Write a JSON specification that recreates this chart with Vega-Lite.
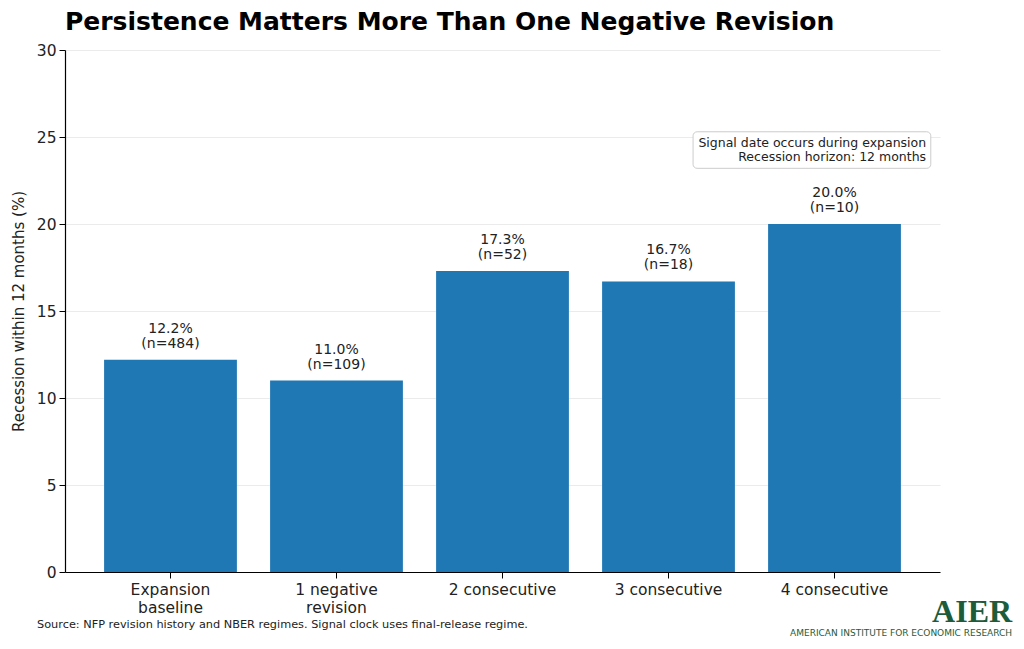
{
  "$schema": "https://vega.github.io/schema/vega-lite/v6.json",
  "autosize": {"type": "none"},
  "width": 875,
  "height": 522,
  "padding": {"left": 65, "top": 50, "right": 84, "bottom": 77},
  "background": "white",
  "title": {
    "text": "Persistence Matters More Than One Negative Revision",
    "anchor": "start",
    "frame": "group",
    "font": "DejaVu Sans",
    "fontSize": 25,
    "fontWeight": "bold",
    "color": "black",
    "offset": 8
  },
  "config": {
    "view": {"stroke": null},
    "font": "DejaVu Sans",
    "text": {"font": "DejaVu Sans"}
  },
  "datasets": {
    "bars": [
      {"group": "Expansion|baseline", "rate": 12.2, "n": 484},
      {"group": "1 negative|revision", "rate": 11.0, "n": 109},
      {"group": "2 consecutive", "rate": 17.3, "n": 52},
      {"group": "3 consecutive", "rate": 16.7, "n": 18},
      {"group": "4 consecutive", "rate": 20.0, "n": 10}
    ]
  },
  "resolve": {"scale": {"x": "independent"}},
  "layer": [
    {
      "data": {"name": "bars"},
      "transform": [
        {"calculate": "format(datum.rate, '.1f') + '%\\n(n=' + datum.n + ')'", "as": "label"}
      ],
      "encoding": {
        "x": {
          "field": "group",
          "type": "nominal",
          "sort": null,
          "scale": {"paddingInner": 0.2, "paddingOuter": 0.2355},
          "axis": {
            "title": null,
            "labelAngle": 0,
            "labelExpr": "split(datum.label, '|')",
            "labelFontSize": 15.5,
            "labelColor": "#222",
            "labelPadding": 4,
            "labelLineHeight": 18,
            "tickSize": 6,
            "tickColor": "black",
            "domainColor": "black",
            "domainWidth": 1.2,
            "grid": false
          }
        },
        "y": {
          "field": "rate",
          "type": "quantitative",
          "scale": {"domain": [0, 30], "nice": false},
          "axis": {
            "title": "Recession within 12 months (%)",
            "titleFontSize": 15,
            "titleFontWeight": "normal",
            "titleColor": "#222",
            "titlePadding": 10,
            "values": [0, 5, 10, 15, 20, 25, 30],
            "labelFontSize": 15.5,
            "labelColor": "#222",
            "labelPadding": 3,
            "tickSize": 6,
            "tickColor": "black",
            "domainColor": "black",
            "domainWidth": 1.2,
            "grid": true,
            "gridColor": "#ebebeb",
            "gridWidth": 1
          }
        }
      },
      "layer": [
        {"mark": {"type": "bar", "color": "#1f77b4"}},
        {
          "mark": {"type": "text", "baseline": "alphabetic", "dy": -27, "lineBreak": "\n", "fontSize": 14, "color": "#222", "lineHeight": 15},
          "encoding": {"text": {"field": "label"}}
        }
      ]
    },
    {
      "data": {"values": [{}]},
      "encoding": {
        "x": {"type": "quantitative", "scale": {"domain": [-0.6355, 4.6355], "nice": false, "zero": false}, "axis": null}
      },
      "layer": [
        {
          "mark": {"type": "rect", "fill": "white", "stroke": "#cccccc", "strokeWidth": 1, "cornerRadius": 4},
          "encoding": {
            "x": {"datum": 3.148, "type": "quantitative"},
            "x2": {"datum": 4.58},
            "y": {"datum": 25.3, "type": "quantitative"},
            "y2": {"datum": 23.2}
          }
        },
        {
          "mark": {"type": "text", "align": "right", "baseline": "alphabetic", "lineBreak": "\n", "fontSize": 12.5, "lineHeight": 14, "color": "#222",
            "text": "Signal date occurs during expansion\nRecession horizon: 12 months"},
          "encoding": {
            "x": {"datum": 4.552, "type": "quantitative"},
            "y": {"datum": 24.45, "type": "quantitative"}
          }
        },
        {
          "mark": {"type": "text", "align": "left", "baseline": "middle", "fontSize": 11.3, "color": "#222",
            "text": "Source: NFP revision history and NBER regimes. Signal clock uses final-release regime."},
          "encoding": {
            "x": {"datum": -0.804, "type": "quantitative"},
            "y": {"datum": -3.046, "type": "quantitative"}
          }
        },
        {
          "mark": {"type": "text", "align": "right", "baseline": "alphabetic", "font": "Liberation Serif", "fontWeight": "bold", "fontSize": 32, "color": "#1d5c3a", "text": "AIER"},
          "encoding": {
            "x": {"datum": 5.07, "type": "quantitative"},
            "y": {"datum": -2.874, "type": "quantitative"}
          }
        },
        {
          "mark": {"type": "text", "align": "right", "baseline": "alphabetic", "fontSize": 9, "color": "#1d5c3a", "text": "AMERICAN INSTITUTE FOR ECONOMIC RESEARCH"},
          "encoding": {
            "x": {"datum": 5.07, "type": "quantitative"},
            "y": {"datum": -3.678, "type": "quantitative"}
          }
        }
      ]
    }
  ]
}
